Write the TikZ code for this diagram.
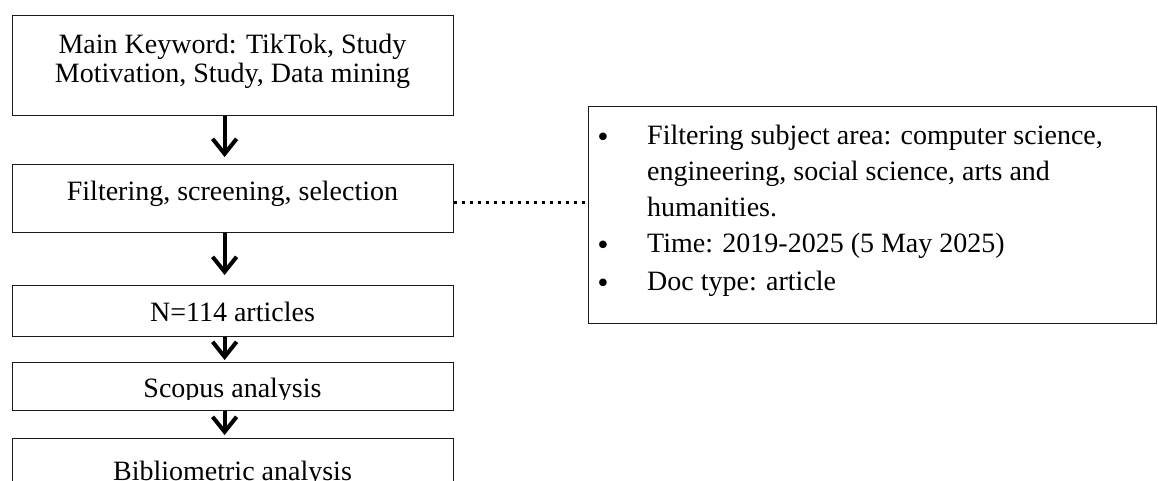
\documentclass[tikz,border=0pt]{standalone}
\usepackage{fontspec}
\setmainfont{Liberation Serif}
\newfontfamily\bulfont{DejaVu Sans}
\usetikzlibrary{arrows.meta}
\begin{document}
\begin{tikzpicture}[x=1pt,y=-1pt,
  box/.style={draw=black!90, line width=1.2pt, rectangle, inner sep=0pt, anchor=north west},
  lbl/.style={anchor=base, inner sep=0pt, font=\fontsize{28}{34}\selectfont},
  rlbl/.style={anchor=base west, inner sep=0pt, font=\fontsize{28}{34}\selectfont},
  bul/.style={anchor=base, inner sep=0pt, font=\bulfont\fontsize{26}{34}\selectfont},
  flow/.style={line width=4pt, -{Straight Barb[length=15pt,width=24pt]}},
  dots/.style={line width=3pt, dash pattern=on 3pt off 5pt}]
\useasboundingbox (0,0) rectangle (1158,480);
% left column boxes
\node[box, minimum width=441pt, minimum height=100pt] (b1) at (12,15) {};
\node[box, minimum width=441pt, minimum height=68pt] (b2) at (12,164) {};
\node[box, minimum width=441pt, minimum height=51pt] (b3) at (12,285) {};
\node[box, minimum width=441pt, minimum height=48pt] (b4) at (12,362) {};
\node[box, minimum width=441pt, minimum height=60pt] (b5) at (12,438) {};
% texts
\node[lbl] (t1a) at (232.5,53) {Main Keyword: TikTok, Study};
\node[lbl] (t1b) at (232.5,82) {Motivation, Study, Data mining};
\node[lbl] (t2) at (232.5,200) {Filtering, screening, selection};
\node[lbl] (t3) at (232.5,321) {N=114 articles};
\begin{scope}
\clip (12,362) rectangle (453,399);
\node[lbl] (t4) at (232.5,397) {Scopus analysis};
\end{scope}
\node[lbl] (t5) at (232.5,480) {Bibliometric analysis};
% right box
\node[box, minimum width=568pt, minimum height=217pt] (rb) at (588,106) {};
\node[bul] (u1) at (603,146) {•};
\node[rlbl] (r1) at (647,144) {Filtering subject area: computer science,};
\node[rlbl] (r2) at (647,180) {engineering, social science, arts and};
\node[rlbl] (r3) at (647,216) {humanities.};
\node[bul] (u2) at (603,254) {•};
\node[rlbl] (r4) at (647,252) {Time: 2019-2025 (5 May 2025)};
\node[bul] (u3) at (603,292) {•};
\node[rlbl] (r5) at (647,290) {Doc type: article};
% connectors
\draw[flow] ([xshift=-8.5pt]b1.south) -- ([xshift=-8.5pt,yshift=7pt]b2.north);
\draw[flow] ([xshift=-8.5pt]b2.south) -- ([xshift=-8.5pt,yshift=10pt]b3.north);
\draw[flow] ([xshift=-8.5pt]b3.south) -- ([xshift=-8.5pt,yshift=2pt]b4.north);
\draw[flow] ([xshift=-8.5pt]b4.south) -- ([xshift=-8.5pt,yshift=3pt]b5.north);
\draw[dots] ([yshift=-4pt]b2.east) -- ([yshift=-4pt]b2.east -| rb.west);
\end{tikzpicture}
\end{document}
